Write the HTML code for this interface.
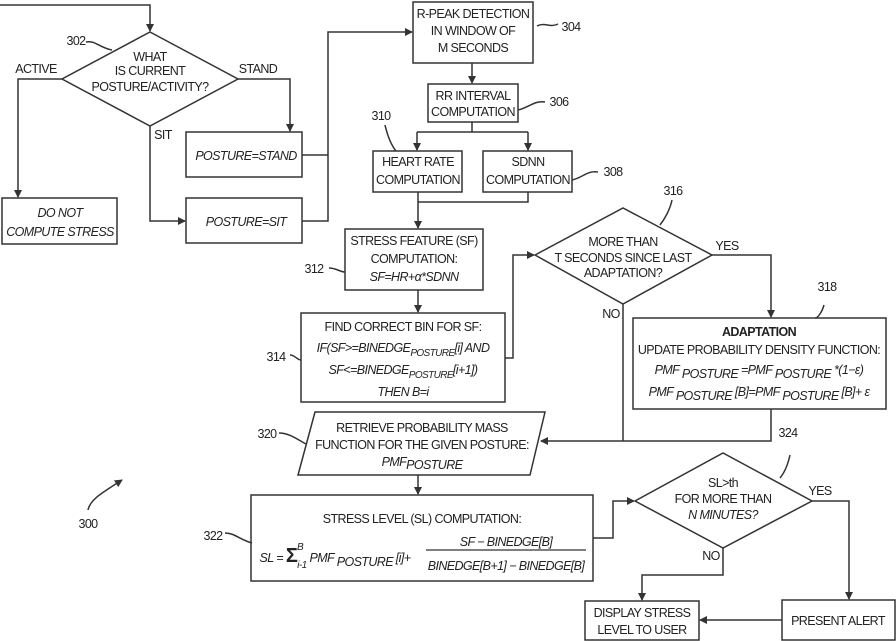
<!DOCTYPE html>
<html><head><meta charset="utf-8"><style>
html,body{margin:0;padding:0;background:#fff}
svg{display:block}
text{font-family:"Liberation Sans",sans-serif;font-size:12.5px;fill:#222;letter-spacing:-0.6px}
.i{font-style:italic}
.s{font-size:10px}
</style></head><body>
<svg width="896" height="641" viewBox="0 0 896 641" xmlns="http://www.w3.org/2000/svg">
<defs><marker id="a" markerWidth="8" markerHeight="8" refX="7" refY="4" orient="auto" markerUnits="userSpaceOnUse"><path d="M0,0 L8,4 L0,8 z" fill="#333"/></marker></defs>
<g fill="none" stroke="#333" stroke-width="1.5">
<polygon points="150,32 238,79 150,126 62,79"/>
<rect x="2" y="198" width="115" height="46"/>
<rect x="186" y="132" width="116" height="45"/>
<rect x="186" y="198" width="116" height="45"/>
<rect x="413" y="2" width="120" height="61"/>
<rect x="428" y="84" width="90" height="38"/>
<rect x="373" y="151" width="89" height="41"/>
<rect x="483" y="151" width="89" height="41"/>
<rect x="345" y="229" width="138" height="61"/>
<rect x="301" y="313" width="204" height="89"/>
<polygon points="535,255 623,208 712,255 623,304"/>
<rect x="633" y="318" width="253" height="91"/>
<polygon points="315,412 545,412 530,475 298,475"/>
<rect x="251" y="495" width="342" height="86"/>
<polygon points="635,501 723,453 812,501 723,548"/>
<rect x="585" y="601" width="114" height="39"/>
<rect x="782" y="600" width="113" height="40"/>
<polyline points="0,5 150,5 150,31" marker-end="url(#a)"/>
<polyline points="62,79 18,79 18,197" marker-end="url(#a)"/>
<polyline points="238,79 290,79 290,131" marker-end="url(#a)"/>
<polyline points="150,126 150,221 185,221" marker-end="url(#a)"/>
<polyline points="302,155 328,155"/>
<polyline points="302,221 328,221 328,32 412,32" marker-end="url(#a)"/>
<polyline points="472,63 472,83" marker-end="url(#a)"/>
<polyline points="472,122 472,132"/>
<polyline points="417,132 528,132"/>
<polyline points="417,132 417,150" marker-end="url(#a)"/>
<polyline points="528,132 528,150" marker-end="url(#a)"/>
<polyline points="418,192 418,228" marker-end="url(#a)"/>
<polyline points="528,192 528,202 418,202"/>
<polyline points="418,290 418,312" marker-end="url(#a)"/>
<polyline points="505,358 513,358 513,255 534,255" marker-end="url(#a)"/>
<polyline points="712,255 771,255 771,317" marker-end="url(#a)"/>
<polyline points="623,304 623,441"/>
<polyline points="771,409 771,441 541,441" marker-end="url(#a)"/>
<polyline points="418,475 418,494" marker-end="url(#a)"/>
<polyline points="593,538 613,538 613,501 634,501" marker-end="url(#a)"/>
<polyline points="812,501 849,501 849,599" marker-end="url(#a)"/>
<polyline points="723,548 723,575 642,575 642,600" marker-end="url(#a)"/>
<polyline points="782,620 700,620" marker-end="url(#a)"/>
<path d="M86,42 C95,40 100,48 112,50"/>
<path d="M537,26 C545,22 550,28 558,24"/>
<path d="M518,110 C528,108 535,100 545,102"/>
<path d="M385,125 C388,138 392,146 396,151"/>
<path d="M572,180 C582,178 588,170 598,172"/>
<path d="M329,268 C336,268 340,272 345,272"/>
<path d="M290,355 C295,355 297,360 301,360"/>
<path d="M672,200 C670,210 664,220 660,225"/>
<path d="M824,305 C822,312 818,318 815,318"/>
<path d="M279,433 C290,433 298,440 306,444"/>
<path d="M225,533 C235,533 240,540 252,543"/>
<path d="M790,455 C788,464 785,472 780,478"/>
<path d="M88,510 C90,500 100,494 122,480" marker-end="url(#a)"/>
</g>
<g text-anchor="middle">
<text x="150" y="61">WHAT</text>
<text x="150" y="75">IS CURRENT</text>
<text x="150" y="91">POSTURE/ACTIVITY?</text>
<text x="76" y="45">302</text>
<text x="36" y="73">ACTIVE</text>
<text x="258" y="73">STAND</text>
<text x="163" y="139">SIT</text>
<text class="i" x="60" y="217">DO NOT</text>
<text class="i" x="60" y="236">COMPUTE STRESS</text>
<text class="i" x="246" y="160">POSTURE=STAND</text>
<text class="i" x="246" y="226">POSTURE=SIT</text>
<text x="473" y="18">R-PEAK DETECTION</text>
<text x="473" y="35">IN WINDOW OF</text>
<text x="473" y="52">M SECONDS</text>
<text x="571" y="31">304</text>
<text x="473" y="100">RR INTERVAL</text>
<text x="473" y="116">COMPUTATION</text>
<text x="559" y="106">306</text>
<text x="381" y="120">310</text>
<text x="418" y="166">HEART RATE</text>
<text x="418" y="184">COMPUTATION</text>
<text x="528" y="166">SDNN</text>
<text x="528" y="184">COMPUTATION</text>
<text x="613" y="176">308</text>
<text x="414" y="245">STRESS FEATURE (SF)</text>
<text x="414" y="263">COMPUTATION:</text>
<text class="i" x="414" y="281">SF=HR+α*SDNN</text>
<text x="314" y="273">312</text>
<text x="403" y="331">FIND CORRECT BIN FOR SF:</text>
<text class="i" x="403" y="352">IF(SF&gt;=BINEDGE<tspan class="s" dy="4">POSTURE</tspan><tspan dy="-4">[i] AND</tspan></text>
<text class="i" x="403" y="374">SF&lt;=BINEDGE<tspan class="s" dy="4">POSTURE</tspan><tspan dy="-4">[i+1])</tspan></text>
<text class="i" x="403" y="396">THEN B=i</text>
<text x="276" y="361">314</text>
<text x="623" y="246">MORE THAN</text>
<text x="623" y="262">T SECONDS SINCE LAST</text>
<text x="623" y="277">ADAPTATION?</text>
<text x="673" y="195">316</text>
<text x="727" y="250">YES</text>
<text x="611" y="318">NO</text>
<text x="827" y="291">318</text>
<text x="759" y="336" font-weight="bold">ADAPTATION</text>
<text x="759" y="354">UPDATE PROBABILITY DENSITY FUNCTION:</text>
<text class="i" x="759" y="374">PMF <tspan dy="4">POSTURE</tspan><tspan dy="-4"> =PMF </tspan><tspan dy="4">POSTURE</tspan><tspan dy="-4"> *(1−ε)</tspan></text>
<text class="i" x="759" y="396">PMF <tspan dy="4">POSTURE</tspan><tspan dy="-4"> [B]=PMF </tspan><tspan dy="4">POSTURE</tspan><tspan dy="-4"> [B]+ ε</tspan></text>
<text x="422" y="432">RETRIEVE PROBABILITY MASS</text>
<text x="422" y="449">FUNCTION FOR THE GIVEN POSTURE:</text>
<text class="i" x="422" y="466">PMF<tspan dy="3">POSTURE</tspan></text>
<text x="267" y="438">320</text>
<text x="422" y="523">STRESS LEVEL (SL) COMPUTATION:</text>
<text class="i" x="335" y="562">SL = <tspan font-size="20" font-style="normal" font-weight="bold">Σ</tspan><tspan class="s" dy="6">i-1</tspan><tspan dy="-6"> PMF </tspan><tspan dy="4">POSTURE</tspan><tspan dy="-4"> [i]+</tspan></text>
<text class="i s" x="300" y="550">B</text>
<text class="i" x="506" y="546">SF − BINEDGE[B]</text>
<text class="i" x="506" y="570">BINEDGE[B+1] − BINEDGE[B]</text>
<text x="213" y="540">322</text>
<text x="88" y="528">300</text>
<text x="723" y="487">SL&gt;th</text>
<text x="723" y="503">FOR MORE THAN</text>
<text class="i" x="723" y="519">N MINUTES?</text>
<text x="788" y="437">324</text>
<text x="820" y="495">YES</text>
<text x="711" y="560">NO</text>
<text x="642" y="617">DISPLAY STRESS</text>
<text x="642" y="634">LEVEL TO USER</text>
<text x="838" y="625">PRESENT ALERT</text>
</g>
<line x1="426" y1="550" x2="586" y2="550" stroke="#333" stroke-width="1.2"/>
</svg>
</body></html>
